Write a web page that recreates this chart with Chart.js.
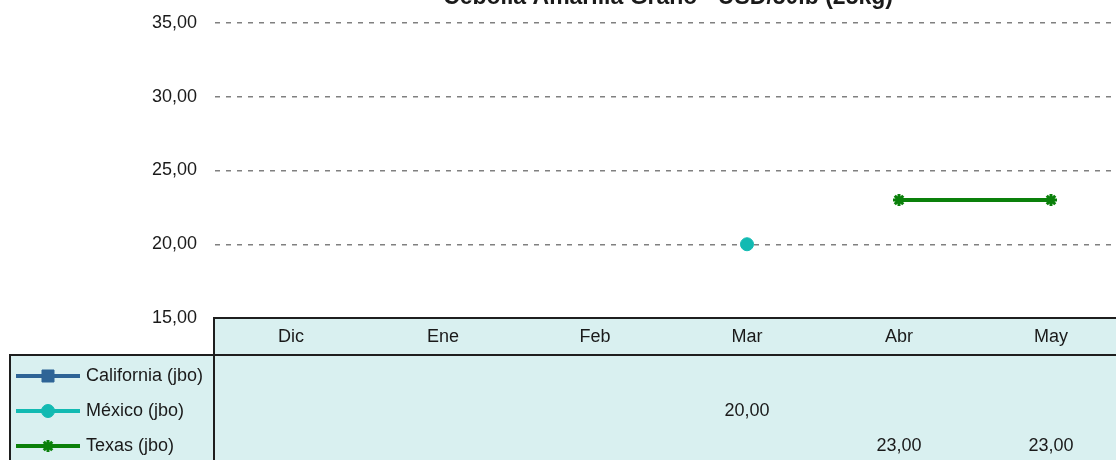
<!DOCTYPE html>
<html>
<head>
<meta charset="utf-8">
<script src="https://cdn.jsdelivr.net/npm/chart.js@4.4.0/dist/chart.umd.min.js"></script>
<style>
  html, body { margin: 0; padding: 0; overflow: hidden; background: #ffffff; width: 1116px; height: 460px; }
  #wrap { position: absolute; left: 0; top: -30px; width: 1336px; height: 500px; }
</style>
</head>
<body>
<div id="wrap"><canvas id="c"></canvas></div>
<script>
const titleText = 'Cebolla Amarilla Grano - USD/50lb (25kg)';
const categories = ['Dic', 'Ene', 'Feb', 'Mar', 'Abr', 'May'];
const seriesNames = ['California (jbo)', 'México (jbo)', 'Texas (jbo)'];
const californiaValues = [null, null, null, null, null, null];
const mexicoValues = [null, null, null, 20, null, null];
const texasValues = [null, null, null, null, 23, 23];
const yTicks = [15, 20, 25, 30, 35];

const FONT = '"Liberation Sans", Arial, sans-serif';
const TABLE_BG = '#d9f0f0';
const BORDER = '#1e1e1e';
const HEADER_H = 37;
const ROW_H = 35;
const FIRST_ROW_OFFSET = 21;

const styles = [
  { color: '#2e6496', point: 'rect', radius: 8.5, bw: 1 },
  { color: '#12bab2', point: 'circle', radius: 6.5, bw: 1 },
  { color: '#0a800a', point: 'star', radius: 6, bw: 3 }
];
const allValues = [californiaValues, mexicoValues, texasValues];

const fmt = v => v.toFixed(2).replace('.', ',');

const tablePlugin = {
  id: 'dataTable',
  beforeDraw(chart) {
    const ctx = chart.ctx;
    const ca = chart.chartArea;
    const W = chart.width, H = chart.height;
    ctx.save();
    ctx.fillStyle = TABLE_BG;
    ctx.fillRect(ca.left - 1, ca.bottom, W - ca.left + 1, HEADER_H);
    ctx.fillRect(10, ca.bottom + HEADER_H, W - 10, H - ca.bottom - HEADER_H);
    ctx.restore();
  },
  afterDraw(chart) {
    const ctx = chart.ctx;
    const ca = chart.chartArea;
    const W = chart.width, H = chart.height;
    const x = chart.scales.x;
    const hb = ca.bottom + HEADER_H;
    ctx.save();
    ctx.strokeStyle = BORDER;
    ctx.lineWidth = 2;
    ctx.beginPath();
    ctx.moveTo(ca.left - 1, ca.bottom); ctx.lineTo(W, ca.bottom);
    ctx.moveTo(ca.left - 1, ca.bottom - 1); ctx.lineTo(ca.left - 1, H);
    ctx.moveTo(9, hb); ctx.lineTo(W, hb);
    ctx.moveTo(10, hb - 1); ctx.lineTo(10, H);
    ctx.stroke();

    ctx.font = '18px ' + FONT;
    ctx.textBaseline = 'middle';
    for (let r = 0; r < seriesNames.length; r++) {
      const cy = hb + FIRST_ROW_OFFSET + r * ROW_H;
      const st = styles[r];
      ctx.strokeStyle = st.color;
      ctx.lineWidth = 4;
      ctx.beginPath();
      ctx.moveTo(16, cy); ctx.lineTo(80, cy);
      ctx.stroke();
      ctx.fillStyle = st.color;
      ctx.strokeStyle = st.color;
      ctx.lineWidth = st.bw;
      Chart.helpers.drawPoint(ctx, { pointStyle: st.point, radius: st.radius, borderWidth: st.bw, rotation: 0 }, 48, cy);
      ctx.fillStyle = '#1a1a1a';
      ctx.textAlign = 'left';
      ctx.fillText(seriesNames[r], 86, cy);
      ctx.textAlign = 'center';
      const vals = allValues[r];
      for (let i = 0; i < vals.length; i++) {
        if (vals[i] !== null) {
          ctx.fillText(fmt(vals[i]), x.getPixelForValue(i), cy);
        }
      }
    }
    ctx.restore();
  }
};

const datasets = seriesNames.map((name, i) => ({
  label: name,
  data: allValues[i],
  borderColor: styles[i].color,
  backgroundColor: styles[i].color,
  pointBackgroundColor: styles[i].color,
  pointBorderColor: styles[i].color,
  pointStyle: styles[i].point,
  pointRadius: styles[i].radius,
  pointBorderWidth: styles[i].bw,
  pointHoverRadius: styles[i].radius,
  borderWidth: 4,
  spanGaps: false,
  tension: 0,
  yAxisID: 'y'
}));

new Chart(document.getElementById('c'), {
  type: 'line',
  data: { labels: categories, datasets },
  plugins: [tablePlugin],
  options: {
    responsive: true,
    maintainAspectRatio: false,
    animation: false,
    events: [],
    layout: { padding: { left: 0, right: 0, top: 0, bottom: 115 } },
    plugins: {
      legend: { display: false },
      tooltip: { enabled: false },
      title: {
        display: true,
        text: titleText,
        color: '#1a1a1a',
        font: { family: FONT, size: 23, weight: 'bold' },
        padding: { top: 13.4, bottom: 12 }
      }
    },
    scales: {
      x: {
        offset: true,
        grid: { display: false, drawTicks: false },
        border: { display: false },
        ticks: { color: '#1a1a1a', font: { family: FONT, size: 18 }, padding: 8, maxRotation: 0 },
        afterFit(scale) { scale.height = HEADER_H; }
      },
      y: {
        min: 15, max: 35,
        afterBuildTicks(scale) { scale.ticks = yTicks.map(v => ({ value: v })); },
        grid: { color: '#808080', lineWidth: 1.5, drawTicks: false },
        border: { display: false, dash: [5, 6] },
        ticks: { color: '#1a1a1a', font: { family: FONT, size: 18 }, padding: 18, callback: v => fmt(v) },
        afterFit(scale) { scale.width = 215; }
      },
      ySpacer: {
        position: 'right',
        min: 15, max: 35,
        grid: { display: false, drawTicks: false },
        border: { display: false },
        ticks: { display: false },
        afterFit(scale) { scale.width = 209; }
      }
    }
  }
});
</script>
</body>
</html>
